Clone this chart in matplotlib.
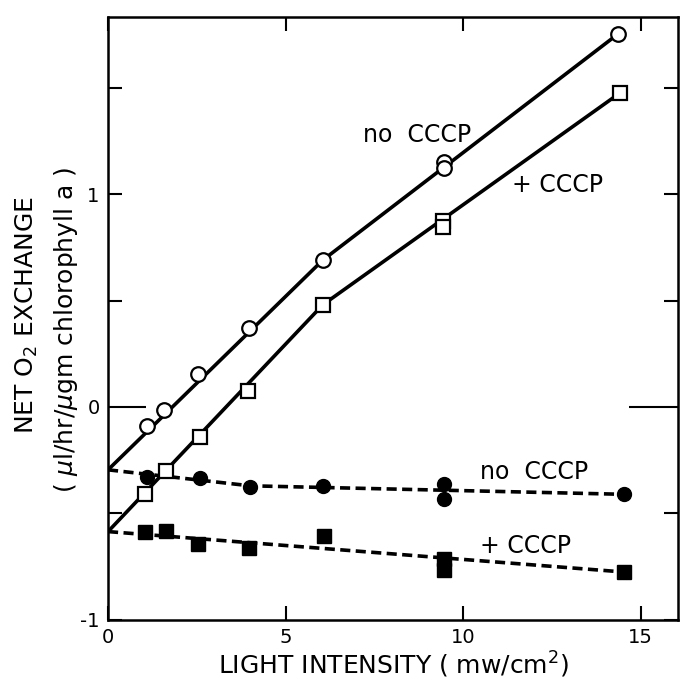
import matplotlib
matplotlib.use("Agg")
import matplotlib.pyplot as plt

# light-on measurements (open symbols)
x_light_no = [1.09, 1.58, 2.53, 3.96, 6.05, 9.45, 9.45, 14.35]
y_light_no = [-0.09, -0.015, 0.155, 0.37, 0.69, 1.15, 1.12, 1.75]
x_light_cccp = [1.04, 1.63, 2.59, 3.95, 6.05, 9.43, 9.43, 14.42]
y_light_cccp = [-0.41, -0.30, -0.14, 0.075, 0.48, 0.875, 0.845, 1.475]

# dark / uptake measurements (filled symbols)
x_dark_no = [1.09, 2.59, 4.0, 6.05, 9.45, 9.45, 14.54]
y_dark_no = [-0.33, -0.335, -0.375, -0.37, -0.36, -0.43, -0.41]
x_dark_cccp = [1.04, 1.63, 2.54, 3.98, 6.08, 9.45, 9.45, 14.54]
y_dark_cccp = [-0.585, -0.58, -0.645, -0.66, -0.605, -0.715, -0.765, -0.775]

# hand-drawn curves through the points
fit_light_no_x = [0, 6.05, 14.35]
fit_light_no_y = [-0.295, 0.69, 1.75]
fit_light_cccp_x = [0, 6.05, 14.42]
fit_light_cccp_y = [-0.585, 0.48, 1.475]
fit_dark_no_x = [0, 4.0, 14.54]
fit_dark_no_y = [-0.295, -0.37, -0.41]
fit_dark_cccp_x = [0, 14.54]
fit_dark_cccp_y = [-0.585, -0.775]

xticks = [0, 5, 10, 15]
yticks = [-1, 0, 1]
yticks_minor = [-0.5, 0.5, 1.5]

fig = plt.figure(figsize=(6.82, 6.84), dpi=100)
ax = fig.add_axes([0.1584, 0.0936, 0.8357, 0.8815])

lw = 2.6
ax.plot(fit_light_no_x, fit_light_no_y, color="black", lw=lw, zorder=2)
ax.plot(fit_light_cccp_x, fit_light_cccp_y, color="black", lw=lw, zorder=2)
ax.plot(fit_dark_no_x, fit_dark_no_y, color="black", lw=lw, dashes=(2.8, 1.5), zorder=2)
ax.plot(fit_dark_cccp_x, fit_dark_cccp_y, color="black", lw=lw, dashes=(2.8, 1.5), zorder=2)

ax.plot(x_light_no, y_light_no, "o", ms=10.5, mfc="white", mec="black", mew=1.6, zorder=3)
ax.plot(x_light_cccp, y_light_cccp, "s", ms=9.5, mfc="white", mec="black", mew=1.6, zorder=3)
ax.plot(x_dark_no, y_dark_no, "o", ms=10, color="black", zorder=3)
ax.plot(x_dark_cccp, y_dark_cccp, "s", ms=10, color="black", zorder=3)

tfont = 17
ax.text(7.18, 1.279, "no  CCCP", fontsize=tfont, va="center", ha="left")
ax.text(11.38, 1.04, "+ CCCP", fontsize=tfont, va="center", ha="left")
ax.text(10.48, -0.304, "no  CCCP", fontsize=tfont, va="center", ha="left")
ax.text(10.48, -0.651, "+ CCCP", fontsize=tfont, va="center", ha="left")

ax.set_xlim(0, 16.05)
ax.set_ylim(-1, 1.831)
ax.set_xticks(xticks)
ax.set_xticklabels([str(t) for t in xticks])
ax.set_yticks(yticks)
ax.set_yticklabels(["-1", "0", "1"])
ax.set_yticks(yticks_minor, minor=True)

ax.tick_params(which="both", direction="in", top=True, right=True,
               length=10, width=1.5, labelsize=14, pad=6)
ax.tick_params(axis="x", labeltop=False)
for t in ax.yaxis.get_major_ticks():
    if t.get_loc() == 0:
        t.tick1line.set_markersize(27)
        t.tick2line.set_markersize(35)

for s in ax.spines.values():
    s.set_linewidth(1.8)

ax.set_xlabel("LIGHT INTENSITY ( mw/cm$^2$)", fontsize=18)
ax.xaxis.set_label_coords(0.5, -0.05)
ax.xaxis.label.set_va("top")

# two-line y axis title
fig.text(27 / 682, 1 - 315 / 684, "NET O$_2$ EXCHANGE", rotation=90,
         fontsize=18, ha="center", va="center")
fig.text(66 / 682, 1 - 330 / 684, "( $\\mu$l/hr/$\\mu$gm chlorophyll a )", rotation=90,
         fontsize=18, ha="center", va="center")

plt.savefig("out.png", dpi=100)
